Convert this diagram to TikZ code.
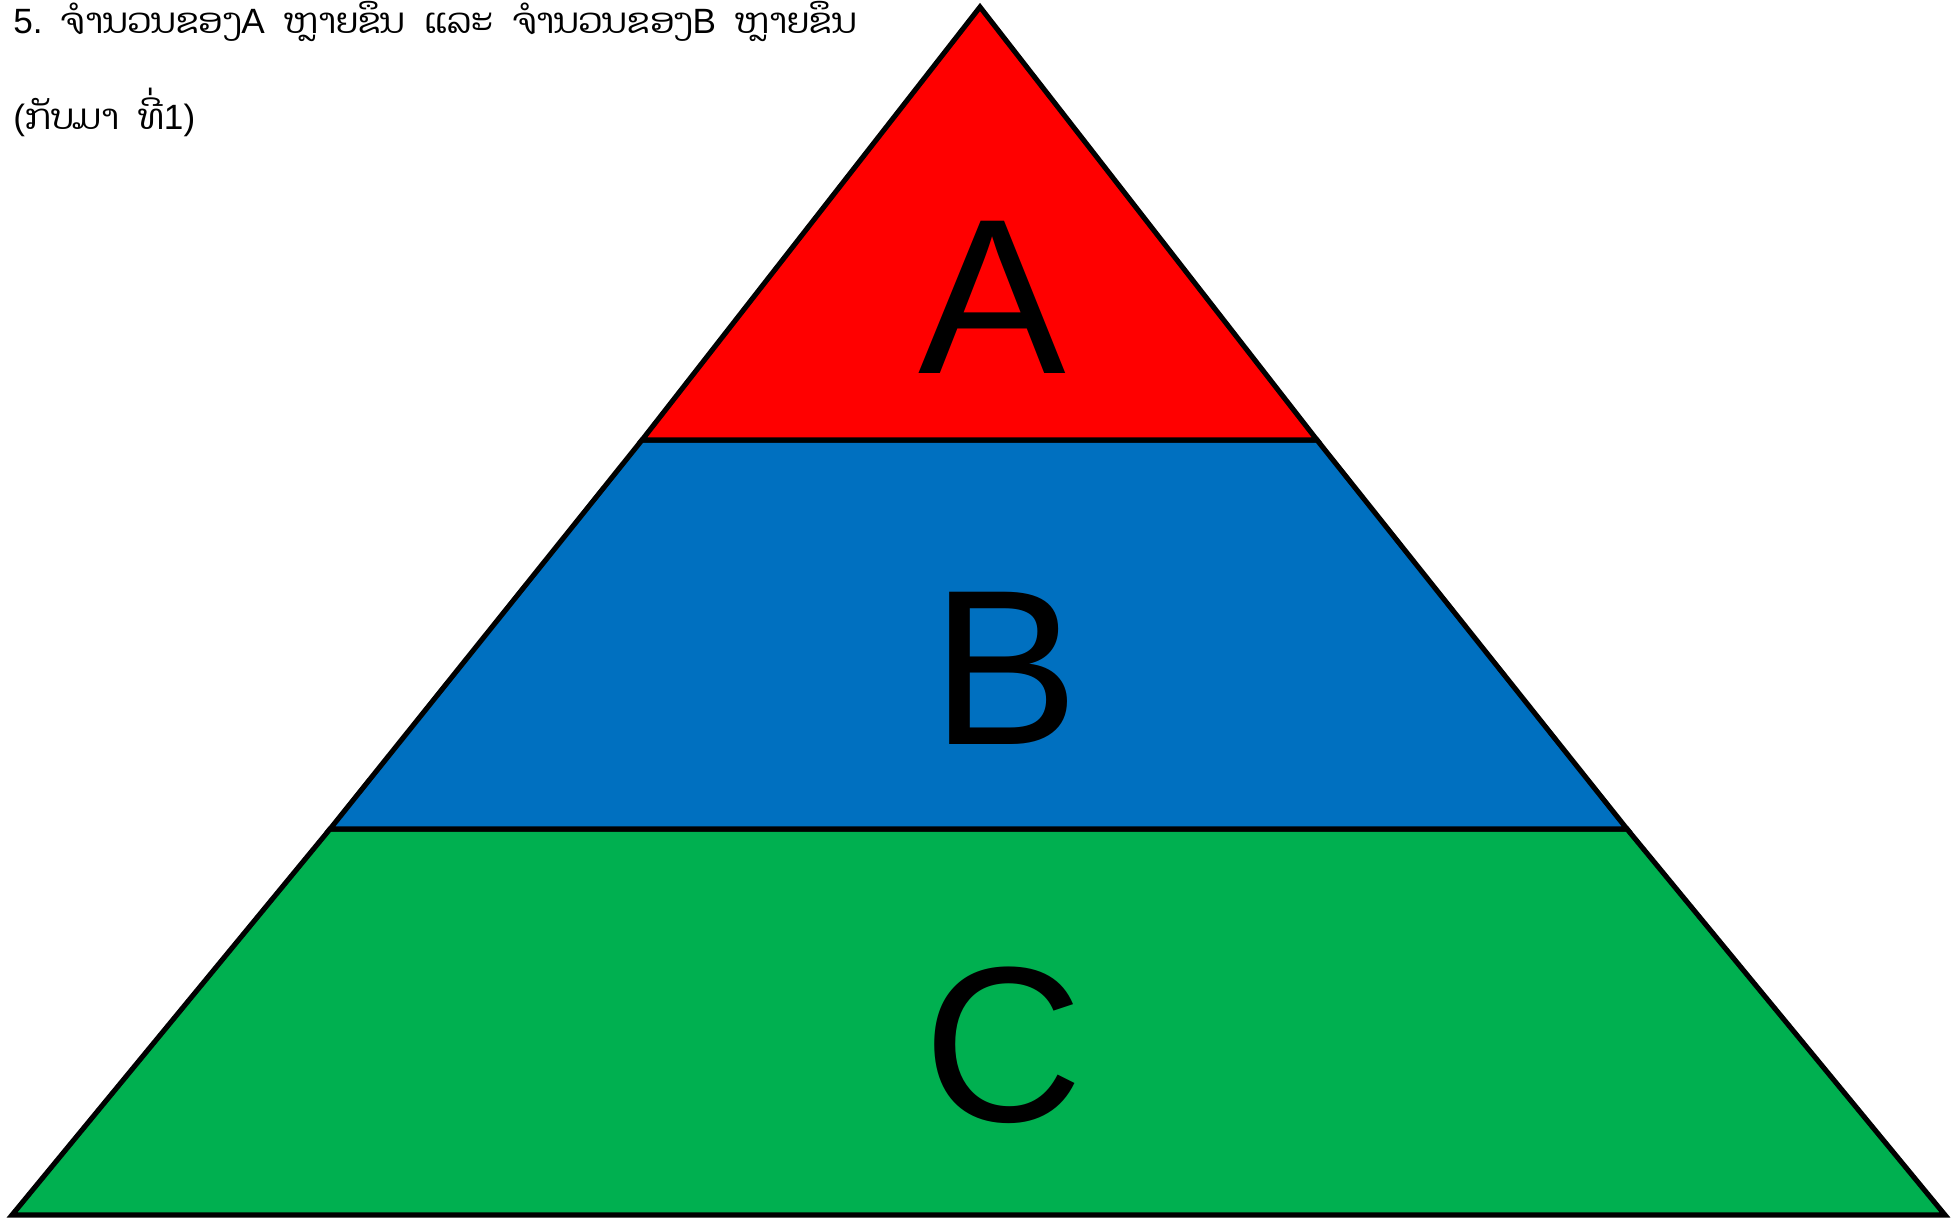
\documentclass[tikz,border=0pt]{standalone}
\usepackage{fontspec}
\setmainfont{Liberation Sans}
\newfontfamily\laofont[Script=Lao]{Dhyana}
\definecolor{TopRed}{HTML}{FF0000}
\definecolor{MidBlue}{HTML}{0070C0}
\definecolor{BaseGreen}{HTML}{00B050}
\tikzset{tier/.style={draw=black,line width=2.9pt,line join=miter},letter/.style={font=\fontsize{126}{126}\selectfont,text=black,inner sep=0pt},caption/.style={anchor=base west,font=\fontsize{20}{22}\selectfont,inner sep=0pt}}
\newcommand{\lao}[1]{{\laofont #1}}
\newcommand{\gap}{\hspace{11pt}}
\begin{document}
\begin{tikzpicture}[x=0.02cm,y=-0.02cm]
\useasboundingbox (0,0) rectangle (1957,1220);
\coordinate (apex) at (980,7);
\coordinate (l1) at (642,440);
\coordinate (r1) at (1317,440);
\coordinate (l2) at (330,829);
\coordinate (r2) at (1627,829);
\coordinate (bl) at (12,1215);
\coordinate (br) at (1945,1215);
% layers
\draw[tier,fill=BaseGreen] (l2)--(bl)--(br)--(r2)--cycle;
\draw[tier,fill=MidBlue] (l1)--(l2)--(r2)--(r1)--cycle;
\draw[tier,fill=TopRed] (apex)--(l1)--(r1)--cycle;
\node[letter] (a) at (992,297) {A};
\node[letter] (b) at (1005,668) {B};
\node[letter] (c) at (1003,1045) {C};
% caption
\node[caption] (t1) at (13,34) {5.\gap\lao{ຈຳນວນຂອງ}A\gap\lao{ຫຼາຍຂຶນ}\gap\lao{ແລະ}\gap\lao{ຈຳນວນຂອງ}B\gap\lao{ຫຼາຍຂຶນ}};
\node[caption] (t2) at (13,130) {(\lao{ກັບມາ}\gap\lao{ທີ່}1)};
\end{tikzpicture}
\end{document}
